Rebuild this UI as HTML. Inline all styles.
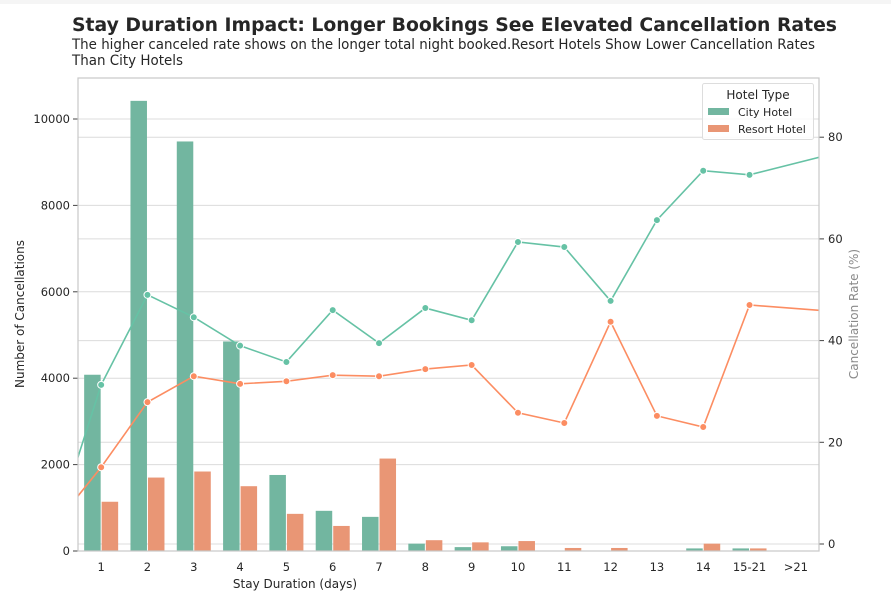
<!DOCTYPE html>
<html><head><meta charset="utf-8"><style>
html,body{margin:0;padding:0;background:#fff;}
body{position:relative;width:891px;height:603px;overflow:hidden}
svg{display:block;font-family:"DejaVu Sans","Liberation Sans",sans-serif;}
</style></head><body>
<svg id="chart" width="891" height="603" viewBox="0 0 891 603">
<rect x="0" y="0" width="891" height="4" fill="#f5f5f5"/>
<text x="72" y="31" font-size="19" font-weight="bold" fill="#262626" textLength="765" lengthAdjust="spacingAndGlyphs">Stay Duration Impact: Longer Bookings See Elevated Cancellation Rates</text>
<text x="72" y="49" font-size="14" fill="#262626" textLength="743" lengthAdjust="spacingAndGlyphs">The higher canceled rate shows on the longer total night booked.Resort Hotels Show Lower Cancellation Rates</text>
<text x="72" y="65" font-size="14" fill="#262626" textLength="111" lengthAdjust="spacingAndGlyphs">Than City Hotels</text>
<g id="grid"></g><g id="bars"></g><g id="lines"></g><g id="axes"></g>
<text x="295" y="588" font-size="12" fill="#262626" text-anchor="middle">Stay Duration (days)</text>
<text font-size="12" fill="#262626" text-anchor="middle" transform="translate(24,314) rotate(-90)">Number of Cancellations</text>
<text font-size="12" fill="#8a8a8a" text-anchor="middle" transform="translate(858,314) rotate(-90)">Cancellation Rate (%)</text>
<g>
<rect x="702.5" y="83.5" width="111" height="56" rx="2" fill="#fff" fill-opacity="0.85" stroke="#ddd"/>
<text x="758" y="99" font-size="12" fill="#262626" text-anchor="middle">Hotel Type</text>
<rect x="708" y="108" width="21" height="7" fill="#72b6a0"/>
<text x="738" y="116" font-size="11" fill="#262626">City Hotel</text>
<rect x="708" y="125" width="21" height="7" fill="#e99675"/>
<text x="738" y="133" font-size="11" fill="#262626">Resort Hotel</text>
</g>
</svg>
<script>
const categories=["1","2","3","4","5","6","7","8","9","10","11","12","13","14","15-21",">21"];
const cityCounts=[4080,10420,9480,4850,1760,930,790,170,90,110,0,0,0,60,60,0];
const resortCounts=[1140,1700,1840,1500,860,580,2140,250,200,230,70,70,0,170,60,0];
// rate series positions: index -1 .. 14, then 16 (line runs past plot edge)
const ratePositions=[-1,0,1,2,3,4,5,6,7,8,9,10,11,12,13,14,16];
const cityRates=[2.9,31.3,49,44.6,39,35.8,46,39.5,46.4,44,59.4,58.4,47.8,63.7,73.4,72.6,77.2];
const resortRates=[3.8,15.1,27.9,33,31.5,32,33.2,33,34.4,35.2,25.8,23.8,43.7,25.2,23,47,45.6];
const leftTicks=[0,2000,4000,6000,8000,10000];
const rightTicks=[0,20,40,60,80];

const NS="http://www.w3.org/2000/svg";
const L=78,R=819,T=78,B=551;
const step=(R-L)/categories.length;
const xc=i=>L+step*(i+0.5);
const yL=v=>551-v*0.0432;
const yR=v=>544-v*5.085;
function mk(tag,attrs,parent){const e=document.createElementNS(NS,tag);for(const k in attrs)e.setAttribute(k,attrs[k]);parent.appendChild(e);return e;}
const grid=document.getElementById('grid'),bars=document.getElementById('bars'),lines=document.getElementById('lines'),axes=document.getElementById('axes');

leftTicks.forEach(v=>{
  const g=mk('line',{x1:L,x2:R,y1:yL(v),y2:yL(v),stroke:'#dcdcdc','stroke-width':1},grid);
  
  
  const t=mk('line',{x1:L-5,x2:L,y1:yL(v),y2:yL(v),stroke:'#444','stroke-width':1},axes);
  
  
  const tx=mk('text',{x:L-8,y:yL(v)+4,'font-size':11.5,'text-anchor':'end',fill:'#262626'},axes);
  tx.textContent=v;
  
  
});
rightTicks.forEach(v=>{
  const g=mk('line',{x1:L,x2:R,y1:yR(v),y2:yR(v),stroke:'#dcdcdc','stroke-width':1},grid);
  
  
  const t=mk('line',{x1:R,x2:R+5,y1:yR(v),y2:yR(v),stroke:'#444','stroke-width':1},axes);
  
  
  const tx=mk('text',{x:R+9,y:yR(v)+4,'font-size':11.5,fill:'#262626'},axes);
  tx.textContent=v;
  
  
});

const bw=16.5;
categories.forEach((c,i)=>{
  const cv=cityCounts[i],rv=resortCounts[i];
  const b1=mk('rect',{x:xc(i)-bw-0.5,y:yL(cv),width:bw,height:B-yL(cv),fill:'#72b6a0'},bars);
  
  
  const b2=mk('rect',{x:xc(i)+0.5,y:yL(rv),width:bw,height:B-yL(rv),fill:'#e99675'},bars);
  
  
  const tx=mk('text',{x:xc(i),y:571,'font-size':11.5,'text-anchor':'middle',fill:'#262626'},axes);
  tx.textContent=c;
  
  
});

mk('clipPath',{id:'clip'},lines);
mk('rect',{x:L,y:T,width:R-L,height:B-T},document.getElementById('clip'));
function series(vals,color,name){
  const g=mk('g',{'clip-path':'url(#clip)'},lines);
  const pts=vals.map((v,k)=>xc(ratePositions[k])+','+yR(v)).join(' ');
  const p=mk('polyline',{points:pts,fill:'none',stroke:color,'stroke-width':1.6},g);
  
  
  vals.forEach((v,k)=>{
    const pos=ratePositions[k];
    if(pos<0||pos>=categories.length)return;
    const m=mk('circle',{cx:xc(pos),cy:yR(v),r:3.5,fill:color,stroke:'#fff','stroke-width':1},g);
    
    
  });
}
series(cityRates,'#66c2a5','city');
series(resortRates,'#fc8d62','resort');

const fr=mk('rect',{x:L,y:T,width:R-L,height:B-T,fill:'none',stroke:'#c8c8c8','stroke-width':1.2},axes);


</script>
</body></html>
